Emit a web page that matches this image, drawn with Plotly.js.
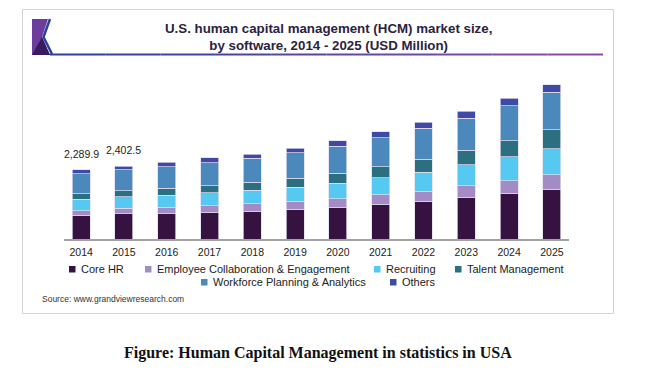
<!DOCTYPE html>
<html>
<head>
<meta charset="utf-8">
<script src="https://cdn.plot.ly/plotly-3.0.1.min.js"></script>
<style>
html,body{margin:0;padding:0;background:#fff;}
#chart{width:652px;height:379px;}
</style>
</head>
<body>
<div id="chart"></div>
<script>
const years = ['2014','2015','2016','2017','2018','2019','2020','2021','2022','2023','2024','2025'];
const seriesNames = ['Core HR','Employee Collaboration & Engagement','Recruiting','Talent Management','Workforce Planning & Analytics','Others'];
const coreHR      = [793, 835, 838, 884, 927, 993, 1059, 1149, 1258, 1380, 1513, 1645];
const employee    = [142, 178, 222, 222, 242, 255, 275, 321, 331, 387, 420, 487];
const recruiting  = [386, 390, 397, 420, 440, 473, 520, 553, 629, 685, 784, 861];
const talent      = [175, 200, 222, 242, 265, 298, 331, 364, 430, 487, 530, 619];
const workforce   = [661, 691, 718, 751, 804, 837, 894, 970, 1016, 1069, 1168, 1248];
const others      = [132.9, 108.5, 142, 166, 132, 156, 175, 189, 209, 222, 242, 255];
const labelYears  = ['2014','2015'];
const labelValues = ['2,289.9','2,402.5'];
const colors = ['#35123f','#a38cc6','#56c9f2','#2c6f80','#4b88bc','#3f4aa6'];

const seriesData = [coreHR, employee, recruiting, talent, workforce, others];

const L = 64, R = 83, T = 79, B = 140, W = 652, H = 379;
const pw = W - L - R, ph = H - T - B;
const px = x => (x - L) / pw;
const py = y => (H - B - y) / ph;

const traces = seriesData.map((vals, i) => ({
  type: 'bar', x: years, y: vals, name: seriesNames[i],
  marker: {color: colors[i], line: {color: 'rgba(225,220,238,0.9)', width: 0.8}},
  hoverinfo: 'skip'
}));

const totals = years.map((_, j) => seriesData.reduce((s, arr) => s + arr[j], 0));

const annotations = [];
labelYears.forEach((yr, k) => {
  const j = years.indexOf(yr);
  annotations.push({x: j, y: totals[j], xref: 'x', yref: 'y', text: labelValues[k],
    showarrow: false, yanchor: 'bottom', yshift: 8,
    font: {family: 'Liberation Sans, Arial', size: 10.5, color: '#222'}});
});

// title
annotations.push({xref: 'paper', yref: 'paper', x: px(328), y: py(36.5), xanchor: 'center', yanchor: 'middle',
  text: '<b>U.S. human capital management (HCM) market size,<br>by software, 2014 - 2025 (USD Million)</b>',
  showarrow: false, align: 'center',
  font: {family: 'Liberation Sans, Arial', size: 13.3, color: '#2a2340'}});

// legend (custom layout)
const legendPos = [
  {mx: 69, y: 269}, {mx: 145, y: 269}, {mx: 374, y: 269}, {mx: 455, y: 269},
  {mx: 201, y: 282}, {mx: 390, y: 282}
];
const shapes = [];
seriesNames.forEach((nm, i) => {
  const p = legendPos[i];
  shapes.push({type: 'rect', xref: 'paper', yref: 'paper', x0: px(p.mx), x1: px(p.mx + 6.5),
    y0: py(p.y + 3.5), y1: py(p.y - 3), fillcolor: colors[i], line: {width: 0}});
  annotations.push({xref: 'paper', yref: 'paper', x: px(p.mx + 9.5), y: py(p.y), xanchor: 'left', yanchor: 'middle',
    text: nm, showarrow: false, font: {family: 'Liberation Sans, Arial', size: 11, color: '#222'}});
});

// source
annotations.push({xref: 'paper', yref: 'paper', x: px(40), y: py(299), xanchor: 'left', yanchor: 'middle',
  text: 'Source: www.grandviewresearch.com', showarrow: false,
  font: {family: 'Liberation Sans, Arial', size: 8.5, color: '#333'}});

// caption
annotations.push({xref: 'paper', yref: 'paper', x: px(318), y: py(353), xanchor: 'center', yanchor: 'middle',
  text: '<b>Figure: Human Capital Management in statistics in USA</b>', showarrow: false,
  font: {family: 'Liberation Serif, Times New Roman', size: 16, color: '#111'}});

// card border
shapes.push({type: 'rect', xref: 'paper', yref: 'paper', x0: px(22.5), x1: px(613.5), y0: py(313.5), y1: py(9.5),
  line: {color: '#d4d4d4', width: 1}, fillcolor: 'rgba(0,0,0,0)', layer: 'below'});

// logo
shapes.push({type: 'path', xref: 'paper', yref: 'paper',
  path: `M ${px(32)} ${py(19)} L ${px(48)} ${py(19)} L ${px(42)} ${py(37)} L ${px(50)} ${py(55)} L ${px(32)} ${py(55)} Z`,
  fillcolor: '#6d3d9e', line: {width: 0}});
shapes.push({type: 'path', xref: 'paper', yref: 'paper',
  path: `M ${px(32)} ${py(55)} L ${px(42)} ${py(37)} L ${px(50)} ${py(55)} Z`,
  fillcolor: '#3a1c5e', line: {width: 0}});
shapes.push({type: 'path', xref: 'paper', yref: 'paper',
  path: `M ${px(50)} ${py(19)} L ${px(43.5)} ${py(37)} L ${px(52)} ${py(54)}`,
  line: {color: '#2d3fa3', width: 2.5}});

// underline gradient (blue -> purple)
const segs = 10;
for (let k = 0; k < segs; k++) {
  const x0 = 50 + (603 - 50) * k / segs, x1 = 50 + (603 - 50) * (k + 1) / segs;
  const t = k / (segs - 1);
  const r = Math.round(45 + t * (140 - 45)), g = Math.round(63 + t * (75 - 63)), b = Math.round(163 + t * (176 - 163));
  shapes.push({type: 'line', xref: 'paper', yref: 'paper', x0: px(x0), x1: px(x1), y0: py(54.5), y1: py(54.5),
    line: {color: `rgb(${r},${g},${b})`, width: 2}});
}

const layout = {
  width: W, height: H,
  margin: {l: L, r: R, t: T, b: B, pad: 0},
  paper_bgcolor: '#fff', plot_bgcolor: '#fff',
  barmode: 'stack', bargap: 0.58,
  showlegend: false,
  xaxis: {type: 'category', range: [-0.4, 11.4], showline: true, linecolor: '#a3a3a3', linewidth: 2,
    ticks: '', showgrid: false, zeroline: false, fixedrange: true,
    tickfont: {family: 'Liberation Sans, Arial', size: 10.5, color: '#222'}, ticklabelstandoff: 2},
  yaxis: {range: [0, 5300], visible: true, showticklabels: false, ticks: '', showline: false,
    showgrid: false, zeroline: false, fixedrange: true},
  annotations: annotations,
  shapes: shapes
};

Plotly.newPlot('chart', traces, layout, {displayModeBar: false, staticPlot: true});
</script>
</body>
</html>
